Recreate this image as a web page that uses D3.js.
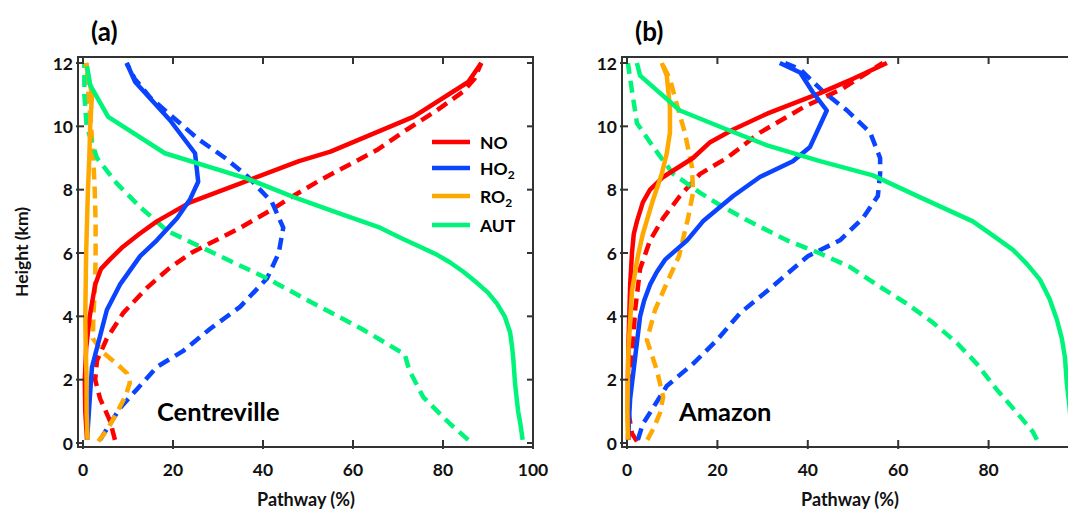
<!DOCTYPE html>
<html>
<head>
<meta charset="utf-8">
<script src="https://cdn.jsdelivr.net/npm/d3@7"></script>
<style>
  body { margin: 0; background: #fff; }
  svg { display: block; font-family: Lato, "Open Sans", sans-serif; font-weight: 700; }
</style>
</head>
<body>
<svg id="chart" width="1068" height="511"></svg>
<script>
// tick labels
const xTicks = [0, 20, 40, 60, 80, 100];
const yTicks = [0, 2, 4, 6, 8, 10, 12];
const species = ["NO", "HO2", "RO2", "AUT"];
const colors = { NO: "#ff0000", HO2: "#0a44ff", RO2: "#ffa800", AUT: "#00f47a" };

// (a) Centreville, [pathway %, height km]; solid and dashed lines
const aNO = [[0.9,0.1],[0.5,1],[0.4,2],[0.7,3],[1.5,4],[2.7,5],[4,5.5],[6,5.8],[8.9,6.2],[12.5,6.6],[16.4,7],[23.8,7.6],[35,8.2],[48,8.9],[55,9.2],[73.4,10.3],[85.6,11.4],[88.5,12]];
const aNOd = [[7.1,0.1],[6,0.7],[3.8,1.4],[2.7,2],[3.1,2.6],[5.3,3.3],[8.9,4.1],[14.2,4.9],[19,5.5],[24,6],[35,6.8],[42.3,7.4],[46.7,7.8],[52.7,8.3],[65.3,9.25],[72,9.9],[78.6,10.5],[84.5,11.1],[87,11.5],[88.5,12]];
const aHO2 = [[0.9,0.1],[1.6,1.6],[2,2.4],[3.1,3],[5.3,4.2],[8.2,5],[12.7,5.9],[16.4,6.4],[20.9,7.1],[23.8,7.7],[25.6,8.25],[24.9,9.15],[19.3,10.2],[11.6,11.4],[9.7,12]];
const aHO2d = [[3.8,0.1],[6,0.6],[8.2,1.1],[12,1.7],[16.4,2.4],[22.2,2.9],[28.2,3.6],[34.9,4.3],[40.9,5.2],[43.5,6],[44.5,6.8],[42,7.6],[36.7,8.4],[31.6,9],[25.6,9.6],[20.7,10.2],[15,10.9],[11.5,11.5],[9.7,12]];
const aRO2 = [[1,0.1],[0.8,1],[0.8,2],[0.6,3],[0.5,4],[0.6,5],[0.7,6],[0.9,7],[1.1,8],[1.4,9],[1.6,10],[2,11],[0.6,12]];
const aRO2d = [[3.4,0.05],[5.3,0.4],[7.5,0.95],[9.5,1.5],[10.4,1.9],[9.8,2.2],[7.5,2.5],[4.5,2.85],[2.2,3.3],[2.3,4],[2.7,5],[2.8,6],[2.8,7],[2.6,8],[2.3,9],[1.8,10],[1.2,11],[0.8,12]];
const aAUT = [[97.7,0.1],[97.2,0.6],[96.7,1],[96.3,1.5],[96,1.9],[95.8,2.3],[95.6,2.7],[95.3,3.1],[94.9,3.5],[93.7,4],[92,4.4],[90,4.75],[87.6,5.05],[84.6,5.4],[81.6,5.7],[78.6,5.95],[75.6,6.15],[71,6.45],[66,6.8],[56,7.3],[46.7,7.77],[36.5,8.35],[18.2,9.15],[5.6,10.3],[1.6,11.3],[0.9,11.9]];
const aAUTd = [[85.6,0.1],[81.6,0.6],[75.6,1.45],[72.5,2.3],[71.5,2.8],[62,3.6],[50,4.5],[41.6,5.15],[29,6],[18.7,6.7],[12.7,7.45],[7.5,8.2],[3.1,9],[0.8,10],[0.3,11],[0.3,12]];

// (b) Amazon
const bNO = [[0.3,0.1],[0.2,1],[0.2,2],[0.3,3],[0.5,4],[0.7,5],[1.1,6],[1.5,6.6],[2.2,7],[3.5,7.6],[5.1,8],[8,8.4],[14.6,9],[18.4,9.5],[23.5,9.9],[31,10.4],[42.7,11.05],[50,11.5],[57.5,12]];
const bNOd = [[2.2,0.05],[1.1,0.3],[0.3,1],[0.4,2],[1.1,2.6],[1.8,4.2],[2.9,5.5],[5.1,6.4],[8,7.1],[11.7,7.8],[16.2,8.5],[22.1,9],[29.4,9.8],[39,10.6],[47.8,11.2],[56.6,12]];
const bHO2 = [[0.2,0.1],[0.7,1.4],[1.8,2.7],[2.9,4],[3.8,4.5],[5.1,5],[6.6,5.4],[8.5,5.8],[13.3,6.4],[16.8,7],[23.5,7.8],[29.4,8.4],[36.7,8.9],[40.5,9.35],[44.2,10.5],[41,11.1],[38.3,11.7],[33.8,12]];
const bHO2d = [[2.4,0.1],[3.5,0.6],[5.5,1.05],[8.8,1.8],[14.6,2.5],[19.9,3.25],[25,4.1],[31,4.8],[40,5.9],[47.1,6.4],[52.2,7.1],[55.5,7.8],[56,8.5],[56,9],[53.8,9.8],[48.7,10.5],[43.4,11.1],[38.3,11.8],[35,12]];
const bRO2 = [[0.2,0.1],[0.1,1],[0.3,2.9],[1.1,4.8],[2.4,5.9],[3.5,6.6],[5.8,7.7],[7.7,8.5],[8.8,9.15],[9.5,9.8],[9.5,10.6],[8.8,11.6],[7.7,12]];
const bRO2d = [[4.5,0.1],[6,0.5],[7.3,0.95],[8,1.45],[6.6,2.3],[4.4,3.25],[6.2,4.2],[8.8,5.05],[11.5,5.9],[13.5,7.1],[14.6,7.9],[14.4,8.7],[12.8,9.8],[11,10.7],[9.5,11.5],[7.7,12]];
const bAUT = [[98.5,0.1],[98,1],[97.3,1.9],[96.9,2.7],[96.2,3.3],[95.1,3.9],[93.5,4.55],[91.4,5.15],[88.5,5.65],[85.4,6.1],[81,6.55],[76.5,7],[65,7.75],[54.4,8.45],[42.7,8.9],[31,9.4],[22.1,9.9],[11.7,10.5],[2.9,11.6],[2.2,12]];
const bAUTd = [[90.7,0.1],[89.8,0.35],[86.3,0.95],[81.9,1.67],[77.4,2.5],[73,3.16],[67.7,3.8],[61.9,4.4],[56,4.93],[49.3,5.56],[42.5,6],[35.4,6.4],[26.5,7.04],[19.9,7.57],[16.2,7.9],[10.2,8.5],[5.8,9.35],[2.2,10.1],[0.7,11.5],[0.2,12]];

const svg = d3.select("#chart");
const y = d3.scaleLinear().domain([0, 12]).range([443, 63]);
const frameTop = 57, frameBottom = 447;

const panels = [
  { label: "(a)", site: "Centreville", siteX: 157, x0: 83, x1: 533, frameL: 78, legend: true,
    solid: { NO: aNO, HO2: aHO2, RO2: aRO2, AUT: aAUT },
    dashed: { NO: aNOd, HO2: aHO2d, RO2: aRO2d, AUT: aAUTd } },
  { label: "(b)", site: "Amazon", siteX: 679, x0: 627, x1: 1079, frameL: 622, legend: false,
    solid: { NO: bNO, HO2: bHO2, RO2: bRO2, AUT: bAUT },
    dashed: { NO: bNOd, HO2: bHO2d, RO2: bRO2d, AUT: bAUTd } }
];

panels.forEach(p => {
  const x = d3.scaleLinear().domain([0, 100]).range([p.x0, p.x1]);
  const g = svg.append("g");
  const frameR = p.x1;

  // model levels joined by straight segments
  const line = d3.line()
    .x(d => x(d[0]))
    .y(d => y(d[1]))
    .curve(d3.curveLinear);

  // dashed first, solid on top
  species.forEach(s => {
    g.append("path")
      .attr("d", line(p.dashed[s]))
      .attr("fill", "none")
      .attr("stroke", colors[s])
      .attr("stroke-width", 4.5)
      .attr("stroke-linejoin", "round")
      .attr("stroke-dasharray", "12,7");
  });
  species.forEach(s => {
    g.append("path")
      .attr("d", line(p.solid[s]))
      .attr("fill", "none")
      .attr("stroke", colors[s])
      .attr("stroke-linejoin", "round")
      .attr("stroke-width", 4.5);
  });

  // frame
  g.append("rect")
    .attr("x", p.frameL).attr("y", frameTop)
    .attr("width", frameR - p.frameL).attr("height", frameBottom - frameTop)
    .attr("fill", "none").attr("stroke", "#333").attr("stroke-width", 2);

  // ticks
  xTicks.forEach(t => {
    g.append("line").attr("x1", x(t)).attr("x2", x(t)).attr("y1", frameBottom + 2).attr("y2", frameBottom - 7)
      .attr("stroke", "#333").attr("stroke-width", 2);
    g.append("line").attr("x1", x(t)).attr("x2", x(t)).attr("y1", frameTop).attr("y2", frameTop + 7)
      .attr("stroke", "#333").attr("stroke-width", 2);
    if (x(t) < 1060) {
      g.append("text").attr("x", x(t)).attr("y", 476)
        .attr("text-anchor", "middle").attr("font-size", 17.5).attr("fill", "#111")
        .text(t);
    }
  });
  yTicks.forEach(t => {
    g.append("line").attr("x1", p.frameL - 2).attr("x2", p.frameL + 6).attr("y1", y(t)).attr("y2", y(t))
      .attr("stroke", "#333").attr("stroke-width", 2);
    g.append("line").attr("x1", frameR).attr("x2", frameR - 6).attr("y1", y(t)).attr("y2", y(t))
      .attr("stroke", "#333").attr("stroke-width", 2);
    g.append("text").attr("x", p.frameL - 5).attr("y", y(t) + 6.5)
      .attr("text-anchor", "end").attr("font-size", 17.5).attr("fill", "#111")
      .text(t);
  });

  // panel label and site
  g.append("text").attr("x", p.x0 + 8).attr("y", 41).attr("font-size", 26).attr("fill", "#000").text(p.label);
  g.append("text").attr("x", p.siteX).attr("y", 421).attr("font-size", 25.5).attr("fill", "#000").text(p.site);

  // x axis title
  g.append("text").attr("x", p.x0 + 223).attr("y", 506)
    .attr("text-anchor", "middle").attr("font-size", 18).attr("fill", "#111")
    .text("Pathway (%)");

  if (p.legend) {
    const leg = g.append("g");
    const rowY = [142, 168, 196, 225];
    species.forEach((s, i) => {
      leg.append("line").attr("x1", 432).attr("x2", 470).attr("y1", rowY[i]).attr("y2", rowY[i])
        .attr("stroke", colors[s]).attr("stroke-width", 4.5);
      const txt = leg.append("text").attr("x", 480).attr("y", rowY[i] + 6.5)
        .attr("font-size", 17.5).attr("fill", "#000");
      if (s.endsWith("2")) {
        txt.append("tspan").text(s.slice(0, 2));
        txt.append("tspan").attr("font-size", 12).attr("dy", 4).text("2");
      } else {
        txt.text(s);
      }
    });
  }
});

// y axis title
svg.append("text")
  .attr("transform", "translate(28,252) rotate(-90)")
  .attr("text-anchor", "middle").attr("font-size", 17.5).attr("fill", "#111")
  .text("Height (km)");
</script>
</body>
</html>
